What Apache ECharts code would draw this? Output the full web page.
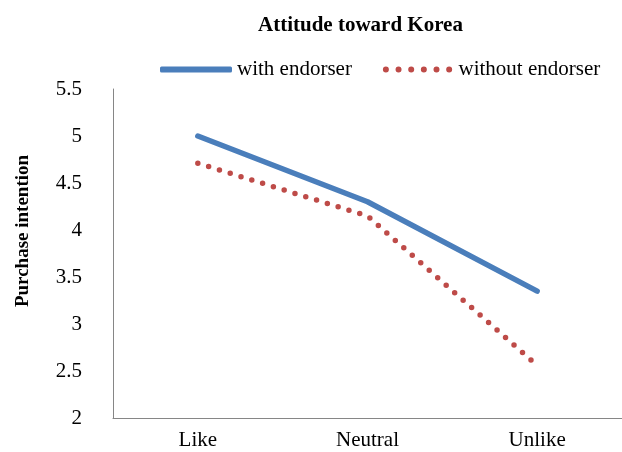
<!DOCTYPE html>
<html>
<head>
<meta charset="utf-8">
<script src="https://cdn.jsdelivr.net/npm/echarts@6/dist/echarts.min.js"></script>
<style>
  html, body { margin: 0; padding: 0; background: #fff; }
  #chart { width: 622px; height: 452px; }
</style>
</head>
<body>
<div id="chart"></div>
<script>
// data
const categories = ['Like', 'Neutral', 'Unlike'];
const withEndorser = [5.0, 4.3, 3.35];
const withoutEndorser = [4.71, 4.15, 2.56];
const seriesNames = ['with endorser', 'without endorser'];

const serif = '"Liberation Serif", "Times New Roman", serif';
const chart = echarts.init(document.getElementById('chart'));

// legend icon: six round dots for the dotted series
let dots = 'path://';
for (let i = 0; i < 6; i++) {
  const cx = 2.75 + i * 11.6;
  dots += 'M' + (cx - 2.75) + ',2.75 a2.75,2.75 0 1,0 5.5,0 a2.75,2.75 0 1,0 -5.5,0 ';
}

const option = {
  animation: false,
  title: {
    text: 'Attitude toward Korea',
    left: 253,
    top: 10,
    textStyle: { fontFamily: serif, fontSize: 21, fontWeight: 'bold', color: '#000' }
  },
  legend: {
    left: 155,
    top: 54,
    itemWidth: 72,
    itemHeight: 6,
    itemGap: 31,
    symbolKeepAspect: true,
    textStyle: { fontFamily: serif, fontSize: 21, color: '#000' },
    data: [
      { name: seriesNames[0], icon: 'roundRect', itemStyle: { color: '#4A7EBB' } },
      { name: seriesNames[1], icon: dots, itemStyle: { color: '#BE4B48' } }
    ]
  },
  grid: { left: 113, right: 0, top: 89, bottom: 34 },
  xAxis: {
    type: 'category',
    data: categories,
    boundaryGap: true,
    axisLine: { lineStyle: { color: '#868686', width: 1 } },
    axisTick: { show: false },
    axisLabel: { fontFamily: serif, fontSize: 21, color: '#000', margin: 12 }
  },
  yAxis: {
    type: 'value',
    min: 2,
    max: 5.5,
    interval: 0.5,
    axisLine: { show: true, lineStyle: { color: '#868686', width: 1 } },
    axisTick: { show: false },
    splitLine: { show: false },
    axisLabel: { fontFamily: serif, fontSize: 21, color: '#000', margin: 31 }
  },
  graphic: [{
    type: 'text',
    x: 23,
    y: 231,
    rotation: Math.PI / 2,
    style: {
      text: 'Purchase intention',
      font: 'bold 19px ' + serif,
      fill: '#000',
      align: 'center',
      verticalAlign: 'middle'
    }
  }],
  series: [
    {
      name: seriesNames[0],
      type: 'line',
      data: withEndorser,
      symbol: 'none',
      itemStyle: { color: '#4A7EBB' },
      lineStyle: { color: '#4A7EBB', width: 5.5, cap: 'round', join: 'round' }
    },
    {
      name: seriesNames[1],
      type: 'line',
      data: withoutEndorser,
      symbol: 'none',
      itemStyle: { color: '#BE4B48' },
      lineStyle: { color: '#BE4B48', width: 5.5, type: [0, 11.3], cap: 'round', join: 'round' }
    }
  ]
};

chart.setOption(option);
</script>
</body>
</html>
